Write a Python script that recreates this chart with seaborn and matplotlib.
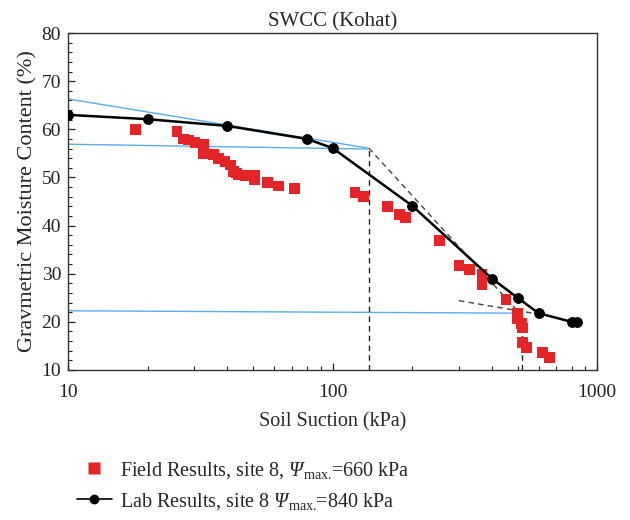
import numpy as np
import pandas as pd
import matplotlib
matplotlib.use("Agg")
import matplotlib.pyplot as plt
import seaborn as sns
from matplotlib.lines import Line2D
from matplotlib.ticker import MultipleLocator, LogLocator, NullFormatter

# ---------------- data ----------------
lab_suction = [10, 20, 40, 80, 100, 200, 400, 500, 600, 800, 840]
lab_moisture = [63.0, 62.1, 60.7, 58.0, 56.1, 44.1, 29.0, 25.0, 21.8, 20.0, 20.0]

field_suction = [18, 25.8, 27.3, 28.5, 30.2, 32.5, 32.5, 35.4, 37.0, 39.2, 41.0, 42.2,
                 43.4, 44.1, 46.7, 50.5, 50.5, 56.6, 62.3, 71.7, 121.6, 130.6, 161, 179,
                 188, 253, 300, 330, 367, 367, 452, 500, 500, 519, 523, 523, 540, 621, 660]
field_moisture = [60.0, 59.5, 58.0, 57.8, 57.3, 56.9, 55.0, 54.8, 54.0, 53.3, 52.6, 51.3,
                  50.9, 50.5, 50.4, 50.4, 49.6, 48.9, 48.2, 47.7, 46.8, 46.0, 43.9, 42.3,
                  41.7, 36.9, 31.7, 30.8, 29.9, 27.7, 24.7, 21.8, 20.7, 19.6, 18.7, 15.7,
                  14.7, 13.7, 12.6]

# construction lines (blue tangents, dashed guides)
blue1_x, blue1_y = [10, 136], [66.3, 56.1]
blue2_x, blue2_y = [10, 136], [56.9, 55.9]
blue3_x, blue3_y = [10, 505], [22.3, 21.8]
dash_slope_x, dash_slope_y = [137, 505], [56.1, 22.0]
dash_res_x, dash_res_y = [300, 600], [24.4, 21.6]
vline1_x, vline1_y = [137, 137], [10, 56.1]
vline2_x, vline2_y = [520, 520], [10, 21.8]

title = "SWCC (Kohat)"
xlabel = "Soil Suction (kPa)"
ylabel = "Gravmetric Moisture Content (%)"
field_label = r"Field Results, site 8, $\mathcal{Ψ}_{\mathrm{max.}}\!$=660 kPa"
lab_label = r"Lab Results, site 8 $\mathcal{Ψ}_{\mathrm{max.}}\!$=840 kPa"

# ---------------- style ----------------
sns.set_style("white")
plt.rcParams["font.family"] = ["Liberation Serif", "DejaVu Serif"]
plt.rcParams["mathtext.fontset"] = "custom"
plt.rcParams["mathtext.rm"] = "Liberation Serif"
plt.rcParams["mathtext.it"] = "Liberation Serif:italic"
plt.rcParams["mathtext.cal"] = "Liberation Serif:italic"
plt.rcParams["font.size"] = 14

fig = plt.figure(figsize=(6.3, 5.2), dpi=100)
ax = fig.add_axes([0.108, 0.2885, 0.84, 0.648])

blue = "#5aaee6"
dash_col = "#444444"
ax.plot(blue1_x, blue1_y, color=blue, lw=1.0, zorder=1)
ax.plot(blue2_x, blue2_y, color=blue, lw=1.0, zorder=1)
ax.plot(blue3_x, blue3_y, color=blue, lw=1.0, zorder=1)
ax.plot(dash_slope_x, dash_slope_y, color=dash_col, lw=1.0, ls=(0, (4, 3)), zorder=1)
ax.plot(dash_res_x, dash_res_y, color=dash_col, lw=1.0, ls=(0, (4, 3)), zorder=1)
ax.plot(vline1_x, vline1_y, color="#222222", lw=1.0, ls=(0, (4, 3)), zorder=1)
ax.plot(vline2_x, vline2_y, color="#222222", lw=1.0, ls=(0, (4, 3)), zorder=1)

df_field = pd.DataFrame({"s": field_suction, "w": field_moisture})
df_lab = pd.DataFrame({"s": lab_suction, "w": lab_moisture})

sns.scatterplot(data=df_field, x="s", y="w", marker="s", s=60, color="#e42528",
                edgecolor="none", ax=ax, zorder=3, legend=False)
sns.lineplot(data=df_lab, x="s", y="w", color="black", lw=1.8, marker="o",
             markersize=7, markeredgecolor="black", ax=ax, zorder=4,
             estimator=None, sort=False, legend=False)

ax.set_xscale("log")
ax.set_xlim(10, 1000)
ax.set_ylim(10, 80)
ax.yaxis.set_major_locator(MultipleLocator(10))
ax.yaxis.set_minor_locator(MultipleLocator(2))
ax.xaxis.set_major_locator(LogLocator(base=10))
ax.xaxis.set_minor_locator(LogLocator(base=10, subs=np.arange(2, 10)))
ax.xaxis.set_minor_formatter(NullFormatter())
ax.set_xticks([10, 100, 1000])
ax.set_xticklabels(["10", "100", "1000"])

ax.tick_params(axis="both", which="both", direction="in", top=False, right=False,
               bottom=True, left=True, labelsize=14, colors="#222222")
ax.tick_params(which="major", length=5, width=0.9)
ax.tick_params(which="minor", length=3, width=0.8)
ax.tick_params(axis="x", which="major", pad=10)
ax.tick_params(axis="y", which="major", pad=5)
for sp in ax.spines.values():
    sp.set_color("#333333")
    sp.set_linewidth(1.0)

ax.set_title(title, fontsize=15, pad=5)
ax.set_xlabel(xlabel, fontsize=14.5, labelpad=8)
ax.set_ylabel(ylabel, fontsize=16, labelpad=3)

handles = [
    Line2D([], [], ls="none", marker="s", markersize=8, color="#e42528", markeredgecolor="none"),
    Line2D([], [], color="black", lw=1.2, marker="o", markersize=6),
]
fig.legend(handles, [field_label, lab_label], loc="upper left",
           bbox_to_anchor=(0.122, 0.116), frameon=False, fontsize=14.5,
           handlelength=1.75, handletextpad=0.4, labelspacing=0.5,
           borderaxespad=0, borderpad=0)

fig.savefig("out.png", dpi=100)
